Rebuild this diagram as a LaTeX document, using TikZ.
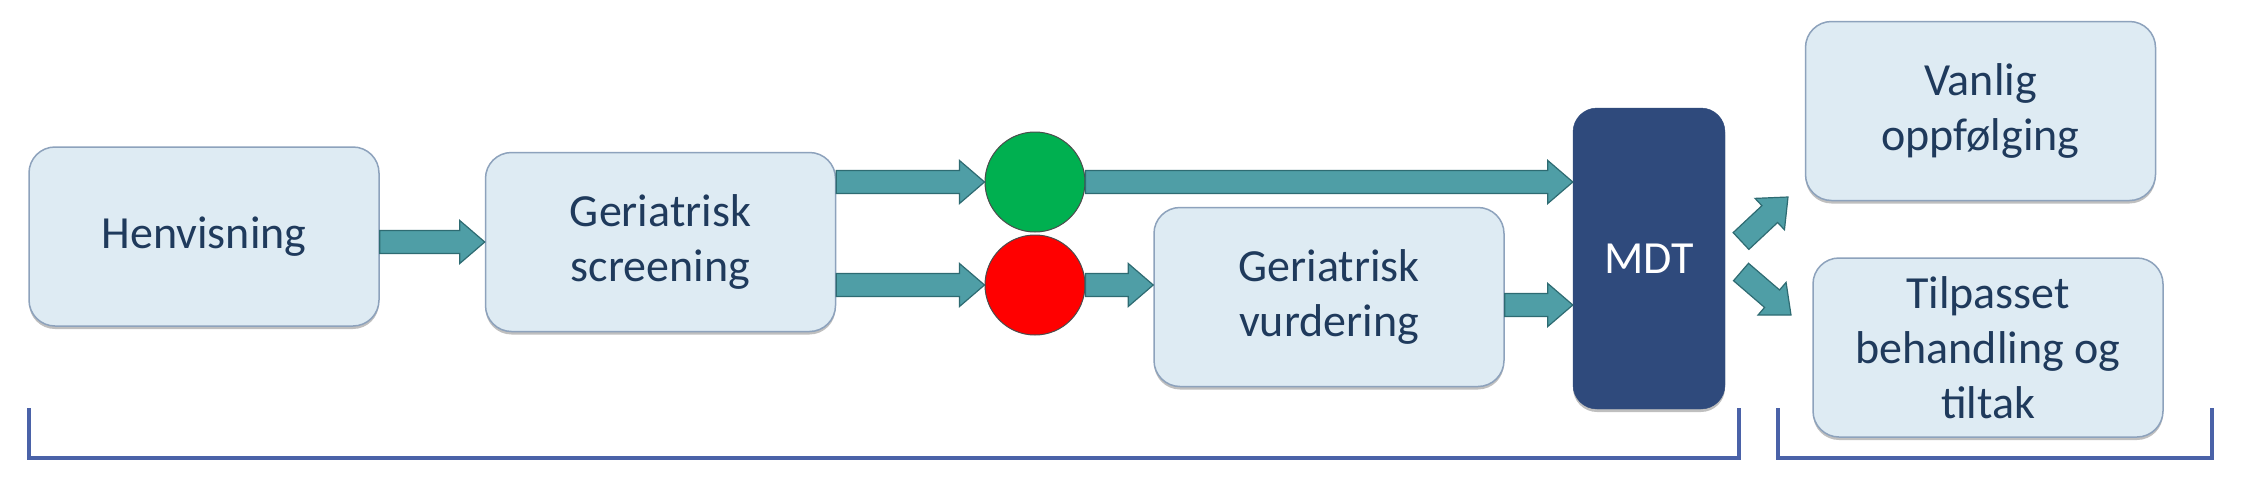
\documentclass[tikz,border=0pt]{standalone}
\usepackage{fontspec}
\setmainfont{Carlito}
\usetikzlibrary{calc,shadows}
\definecolor{boxfill}{HTML}{DEEBF3}
\definecolor{boxline}{HTML}{8DA2BC}
\definecolor{txt}{HTML}{1F3A5C}
\definecolor{arrfill}{HTML}{4F9EA6}
\definecolor{arrline}{HTML}{2E6B72}
\definecolor{mdtfill}{HTML}{2F4A7C}
\definecolor{grnfill}{HTML}{00B050}
\definecolor{redfill}{HTML}{FF0000}
\definecolor{brk}{HTML}{4A62A8}
\tikzset{
  boxshadow/.style={drop shadow={shadow xshift=0pt,shadow yshift=-3pt,fill=black,opacity=0.25}},
  lbox/.style={draw=boxline,fill=boxfill,line width=1.5pt,rounded corners=26pt,
    minimum width=350pt,minimum height=179pt,align=center,text=txt,
    font=\fontsize{46}{55}\selectfont,inner sep=0pt,boxshadow},
  mdtbox/.style={fill=mdtfill,draw=mdtfill,rounded corners=24pt,minimum width=152pt,
    minimum height=301pt,text=white,font=\fontsize{46}{55}\selectfont,inner sep=0pt,boxshadow},
  light/.style={circle,minimum size=100pt,inner sep=0pt,draw=black!70,line width=1pt},
  arrowbody/.style={fill=arrfill,draw=arrline,line width=1.2pt,line join=miter},
  bracket/.style={draw=brk,line width=4pt,line join=miter},
}
\def\ShaftHalf{11.5pt}
\def\HeadHalf{21.5pt}
\def\HeadLen{25pt}
\newcommand\barrow[2]{%
  \coordinate (bas) at (#1);
  \coordinate (bat) at (#2);
  \coordinate (bah) at ($(bat)!\HeadLen!(bas)$);
  \draw[arrowbody] ($(bas)!\ShaftHalf!90:(bat)$) -- ($(bah)!\ShaftHalf!90:(bat)$)
    -- ($(bah)!\HeadHalf!90:(bat)$) -- (bat) -- ($(bah)!\HeadHalf!-90:(bat)$)
    -- ($(bah)!\ShaftHalf!-90:(bat)$) -- ($(bas)!\ShaftHalf!-90:(bat)$) -- cycle;}
\begin{document}
\begin{tikzpicture}[x=1pt,y=-1pt]
\useasboundingbox[fill=white] (0,0) rectangle (2244,491);
\node[lbox] (henv) at (204,236.5) {Henvisning};
\node[lbox] (scr) at (660.5,242) {Geriatrisk\\screening};
\node[light,fill=grnfill] (grn) at (1035,182) {};
\node[light,fill=redfill] (red) at (1035,285) {};
\node[lbox] (vurd) at (1329,297) {Geriatrisk\\vurdering};
\node[mdtbox] (mdt) at (1649,258.5) {MDT};
\node[lbox] (vanl) at (1980.5,111) {Vanlig\\oppfølging};
\node[lbox] (tilp) at (1988,347.5) {Tilpasset\\behandling og\\tiltak};
\barrow{henv.east |- scr.west}{scr.west}
\barrow{scr.east |- grn.west}{grn.west}
\barrow{scr.east |- red.west}{red.west}
\barrow{grn.east}{mdt.west |- grn.east}
\barrow{red.east}{vurd.west |- red.east}
\coordinate (vo) at ($(vurd.east)+(0,8)$);
\barrow{vo}{mdt.west |- vo}
\coordinate (d1s) at (1741,241);
\coordinate (d1t) at (1788,197);
\coordinate (d2s) at (1741,272);
\coordinate (d2t) at (1791,315);
\barrow{d1s}{d1t}
\barrow{d2s}{d2t}
\coordinate (b1a) at (29,408);
\coordinate (b1b) at (1739,458);
\coordinate (b2a) at (1778,408);
\coordinate (b2b) at (2212,458);
\draw[bracket] (b1a) -- (b1a |- b1b) -- (b1b) -- (b1b |- b1a);
\draw[bracket] (b2a) -- (b2a |- b2b) -- (b2b) -- (b2b |- b2a);
\end{tikzpicture}
\end{document}
